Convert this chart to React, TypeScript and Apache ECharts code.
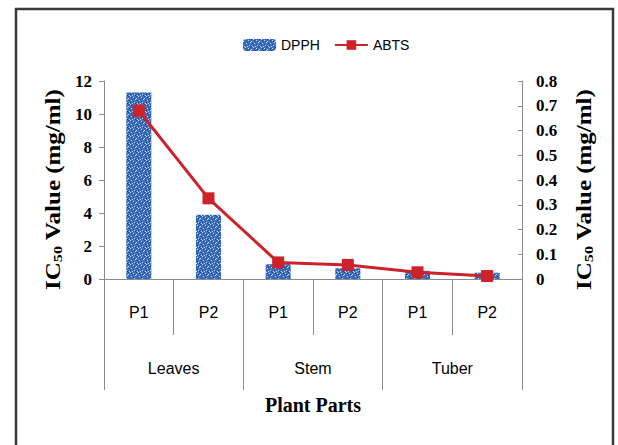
import React, { useEffect, useRef } from "react";
import * as echarts from "echarts";

// Plant part samples and their antioxidant IC50 values
const samples = ["P1", "P2", "P1", "P2", "P1", "P2"];
const plantParts = ["Leaves", "Stem", "Tuber"];
const dpphValues = [11.3, 3.9, 0.9, 0.65, 0.5, 0.38];
const abtsValues = [0.68, 0.326, 0.067, 0.057, 0.027, 0.012];
const leftTicks = { min: 0, max: 12, interval: 2 };
const rightTicks = { min: 0, max: 0.8, interval: 0.1 };

const SERIF = "'Liberation Serif', 'Times New Roman', serif";
const SANS = "'Liberation Sans', Arial, sans-serif";
const AXIS_GRAY = "#8a8a8a";

// Mottled blue fill for the DPPH bars
function makeSpeckle(): HTMLCanvasElement {
  const c = document.createElement("canvas");
  c.width = 8;
  c.height = 8;
  const ctx = c.getContext("2d")!;
  ctx.fillStyle = "#3d6fc2";
  ctx.fillRect(0, 0, 8, 8);
  const dark = [[0, 0], [3, 1], [6, 2], [1, 4], [5, 5], [2, 6], [7, 7], [4, 3]];
  const light = [[2, 0], [5, 1], [0, 2], [7, 3], [3, 4], [6, 6], [1, 7], [4, 7]];
  ctx.fillStyle = "#1c3f86";
  dark.forEach(([x, y]) => ctx.fillRect(x, y, 1, 1));
  ctx.fillStyle = "#cfe0f7";
  light.forEach(([x, y]) => ctx.fillRect(x, y, 1, 1));
  return c;
}

export default function App() {
  const ref = useRef<HTMLDivElement>(null);

  useEffect(() => {
    if (!ref.current) return;
    const chart = echarts.init(ref.current, null, { renderer: "svg" });
    const speckle = { image: makeSpeckle(), repeat: "repeat" as const };

    const titleRich = {
      base: { fontFamily: SERIF, fontWeight: "bold" as const, fontSize: 20, fill: "#000" },
      sub: { fontFamily: SERIF, fontWeight: "bold" as const, fontSize: 13, fill: "#000", padding: [9, 0, 0, 0] },
    };

    chart.setOption({
      animation: false,
      backgroundColor: "#ffffff",
      legend: {
        left: 238,
        top: 33,
        itemWidth: 33,
        itemHeight: 12,
        itemGap: 14,
        textStyle: { fontFamily: SANS, fontSize: 14, color: "#000" },
        data: ["DPPH", "ABTS"],
      },
      grid: { left: 104, right: 96, top: 81, bottom: 166 },
      xAxis: [
        {
          type: "category",
          data: samples,
          position: "bottom",
          axisLine: { show: true, lineStyle: { color: AXIS_GRAY, width: 1 } },
          axisTick: { show: true, length: 56, interval: 0, lineStyle: { color: AXIS_GRAY } },
          axisLabel: { interval: 0, margin: 25, fontFamily: SANS, fontSize: 16, color: "#000" },
        },
        {
          type: "category",
          data: plantParts,
          position: "bottom",
          axisLine: { show: false },
          axisTick: { show: true, length: 111, interval: 0, lineStyle: { color: AXIS_GRAY } },
          axisLabel: { interval: 0, margin: 81, fontFamily: SANS, fontSize: 16, color: "#000" },
        },
      ],
      yAxis: [
        {
          type: "value",
          ...leftTicks,
          position: "left",
          splitLine: { show: false },
          axisLine: { show: true, lineStyle: { color: AXIS_GRAY } },
          axisTick: { show: true, length: 5, lineStyle: { color: AXIS_GRAY } },
          axisLabel: { margin: 12, fontFamily: SERIF, fontWeight: "bold", fontSize: 17, color: "#000" },
        },
        {
          type: "value",
          ...rightTicks,
          position: "right",
          splitLine: { show: false },
          axisLine: { show: true, lineStyle: { color: AXIS_GRAY } },
          axisTick: { show: true, inside: true, length: 4, lineStyle: { color: AXIS_GRAY } },
          axisLabel: { margin: 14, fontFamily: SERIF, fontWeight: "bold", fontSize: 17, color: "#000" },
        },
      ],
      series: [
        {
          name: "DPPH",
          type: "bar",
          xAxisIndex: 0,
          yAxisIndex: 0,
          barWidth: 25,
          data: dpphValues,
          itemStyle: { color: speckle },
        },
        {
          name: "ABTS",
          type: "line",
          xAxisIndex: 0,
          yAxisIndex: 1,
          data: abtsValues,
          symbol: "rect",
          symbolSize: 12,
          lineStyle: { color: "#cc2229", width: 3 },
          itemStyle: { color: "#cc2229" },
        },
      ],
      graphic: [
        {
          type: "rect",
          shape: { x: 16, y: 9, width: 597, height: 460 },
          style: { fill: "none", stroke: "#3a3a3a", lineWidth: 2.5 },
          silent: true,
        },
        {
          type: "text",
          x: 42,
          y: 290,
          rotation: Math.PI / 2,
          scaleX: 1.25,
          style: {
            text: "{base|IC}{sub|50}{base| Value (mg/ml)}",
            rich: titleRich,
            verticalAlign: "top",
          },
        },
        {
          type: "text",
          x: 573,
          y: 290,
          rotation: Math.PI / 2,
          scaleX: 1.25,
          style: {
            text: "{base|IC}{sub|50}{base| Value (mg/ml)}",
            rich: titleRich,
            verticalAlign: "top",
          },
        },
        {
          type: "text",
          x: 313,
          y: 395,
          style: {
            text: "Plant Parts",
            fontFamily: SERIF,
            fontWeight: "bold",
            fontSize: 20,
            fill: "#000",
            align: "center",
          },
        },
      ],
    });

    return () => chart.dispose();
  }, []);

  return (
    <div
      ref={ref}
      style={{ position: "fixed", left: 0, top: 0, width: 618, height: 445 }}
    />
  );
}
